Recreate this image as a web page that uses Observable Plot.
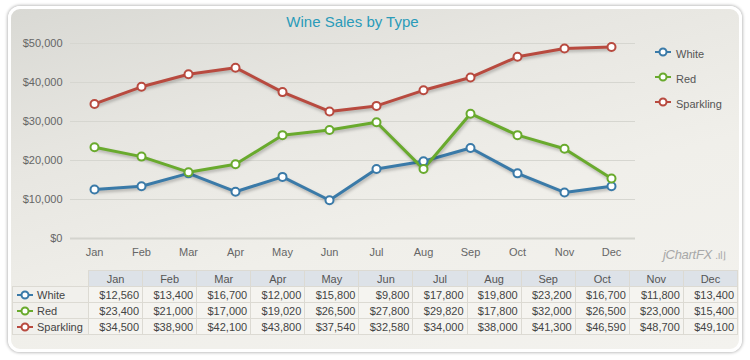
<!DOCTYPE html>
<html>
<head>
<meta charset="utf-8">
<script src="https://cdn.jsdelivr.net/npm/d3@7"></script>
<script src="https://cdn.jsdelivr.net/npm/@observablehq/plot@0.6"></script>
<style>
  html, body { margin:0; padding:0; background:#fff; }
  body { width:750px; height:360px; position:relative; overflow:hidden; font-family:"Liberation Sans", Arial, sans-serif; }
  #panel { position:absolute; left:8px; top:6px; width:728px; height:340px; border:3px solid #fff; border-radius:12px;
    box-shadow:0 0 3px 1px rgba(0,0,0,0.25);
    background:linear-gradient(165deg, #d9d9d4 0%, #e7e6e1 30%, #f0efea 60%, #f3f2ee 100%); }
  #title { position:absolute; left:0; width:705px; top:13px; text-align:center; font-size:15px; color:#2a9bb9; }
  #chart { position:absolute; left:0; top:0; }
  #chart svg { overflow:visible; }
  #chart g[aria-label="line"] path { filter: drop-shadow(1px 2px 1.5px rgba(0,0,0,0.25)); }
  #legend { position:absolute; left:654px; top:46px; font-size:11px; color:#555; }
  .li { height:25px; display:flex; align-items:flex-start; }
  .li svg { margin-right:4px; }
  .li span { line-height:16px; }
  #logo { position:absolute; left:663px; top:247px; font-size:13px; font-style:italic; color:#a8a8a8; letter-spacing:-0.3px; }
  table { position:absolute; left:12px; top:270px; border-collapse:collapse; table-layout:fixed; width:726px; font-size:11px; color:#444; }
  td, th { height:15px; padding:0 3px 0 0; border:1px solid #dcdad3; white-space:nowrap; overflow:hidden; }
  th { background:#dde2e8; font-weight:normal; text-align:center; color:#555; padding:0; }
  th.blank { background:transparent; border-top-color:transparent; border-left-color:transparent; }
  td.v { text-align:right; background:#f5f4f0; }
  td.lab { background:#f1f0ec; padding-left:3px; }
  td.lab svg { vertical-align:-2px; margin-right:3px; }
</style>
</head>
<body>
<div id="panel"></div>
<div id="title">Wine Sales by Type</div>
<div id="chart"></div>
<div id="legend"></div>
<div id="logo">jChartFX <span style="font-style:normal;font-size:10px;">.ıl⌋</span></div>
<table id="tbl"></table>
<script>
const months = ["Jan","Feb","Mar","Apr","May","Jun","Jul","Aug","Sep","Oct","Nov","Dec"];
const white = [12560,13400,16700,12000,15800,9800,17800,19800,23200,16700,11800,13400];
const red = [23400,21000,17000,19020,26500,27800,29820,17800,32000,26500,23000,15400];
const sparkling = [34500,38900,42100,43800,37540,32580,34000,38000,41300,46590,48700,49100];
const seriesNames = ["White","Red","Sparkling"];
const seriesColors = ["#3a7aa8","#69aa2d","#b84a3f"];
const yTicks = [0,10000,20000,30000,40000,50000];

const seriesValues = [white, red, sparkling];
const rows = [];
seriesNames.forEach((s, i) => months.forEach((m, j) => rows.push({series:s, month:m, value:seriesValues[i][j]})));
const fmt = d3.format("$,");

const chart = Plot.plot({
  width: 750, height: 265,
  marginLeft: 70, marginRight: 115, marginTop: 43, marginBottom: 27,
  style: { background: "transparent", fontFamily: "'Liberation Sans', Arial, sans-serif", fontSize: "11px", color: "#666" },
  x: { type: "point", domain: months, padding: 0.5, label: null, tickSize: 0, tickPadding: 10 },
  y: { domain: [0, 50000], ticks: yTicks, tickFormat: fmt, label: null, tickSize: 0, tickPadding: 8 },
  color: { domain: seriesNames, range: seriesColors },
  marks: [
    Plot.gridY(yTicks.slice(1), { stroke: "#d6d6d0", strokeOpacity: 1 }),
    Plot.ruleY([0], { stroke: "#d4d4ce", strokeWidth: 2 }),
    Plot.lineY(rows, { x: "month", y: "value", stroke: "series", strokeWidth: 3 }),
    Plot.dot(rows, { x: "month", y: "value", stroke: "series", fill: "white", r: 4, strokeWidth: 2, symbol: "circle" })
  ]
});
document.getElementById("chart").appendChild(chart);

function icon(color) {
  return `<svg width="18" height="12" viewBox="0 0 18 12"><line x1="1" y1="6" x2="17" y2="6" stroke="${color}" stroke-width="2"/><circle cx="9" cy="6" r="3.5" fill="#fff" stroke="${color}" stroke-width="2"/></svg>`;
}
const legend = document.getElementById("legend");
seriesNames.forEach((s, i) => {
  const d = document.createElement("div");
  d.className = "li";
  d.innerHTML = icon(seriesColors[i]) + `<span>${s}</span>`;
  legend.appendChild(d);
});

const tbl = document.getElementById("tbl");
let html = `<colgroup><col style="width:76px">` + months.map(() => `<col>`).join("") + `</colgroup>`;
html += `<tr><th class="blank"></th>` + months.map(m => `<th>${m}</th>`).join("") + `</tr>`;
seriesNames.forEach((s, i) => {
  html += `<tr><td class="lab">${icon(seriesColors[i])}${s}</td>` + seriesValues[i].map(v => `<td class="v">${fmt(v)}</td>`).join("") + `</tr>`;
});
tbl.innerHTML = html;
</script>
</body>
</html>
